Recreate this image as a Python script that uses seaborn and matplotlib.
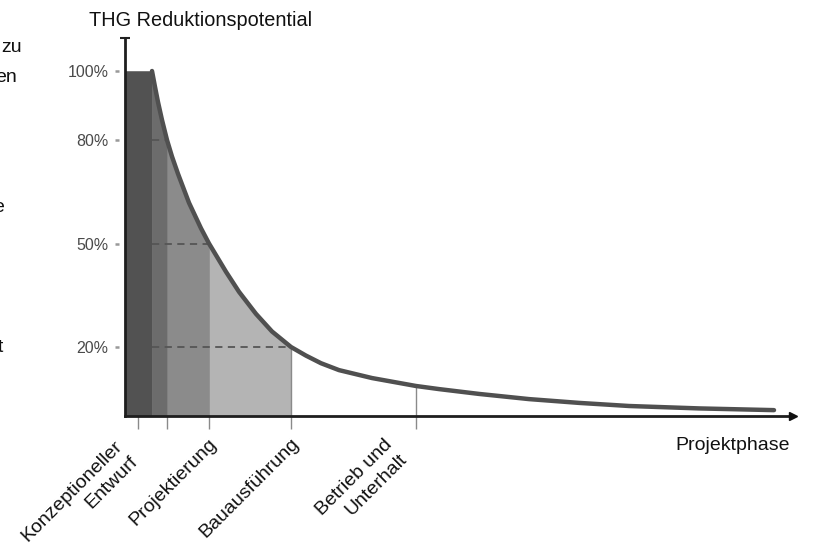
import numpy as np
import pandas as pd
import matplotlib
matplotlib.use('Agg')
import matplotlib.pyplot as plt
import matplotlib.transforms as mtransforms
import seaborn as sns

# ── Data ──────────────────────────────────────────────────────────────────
# x: project progress (arbitrary units), y: GHG reduction potential in %
curve_x = [27, 30, 33, 37, 42, 47, 53, 64, 76, 84, 101, 114, 131, 147, 166, 181, 196,
           214, 247, 291, 314, 354, 404, 454, 504, 574, 649]
curve_y = [100, 95.4, 91.0, 85.8, 80, 75.2, 70.2, 61.8, 54.4, 50, 41.8, 36.0, 29.6, 24.5,
           20, 17.5, 15.3, 13.3, 11.0, 8.7, 7.8, 6.4, 4.9, 3.8, 2.9, 2.2, 1.7]

phase_bounds = [0, 27, 42, 84, 166]          # shaded phases
phase_colors = ["#525252", "#6c6c6c", "#8b8b8b", "#b4b4b4"]
guide_levels = [80, 50, 20]                  # dashed guides
guide_ends   = [42, 84, 166]

tick_pos    = [13, 42, 84, 166, 291]
tick_labels = ["Konzeptioneller\nEntwurf", "", "Projektierung", "Bauausführung", "Betrieb und\nUnterhalt"]
ytick_pos    = [20, 50, 80, 100]
ytick_labels = ["20%", "50%", "80%", "100%"]

left_fragments = ["zu", "en", "e", "t"]

df = pd.DataFrame({"x": curve_x, "y": curve_y})

# ── Style ─────────────────────────────────────────────────────────────────
sns.set_theme(style="white")
plt.rcParams['font.family'] = ['Liberation Sans', 'DejaVu Sans']
FS = 14

fig = plt.figure(figsize=(8.16, 5.48), dpi=100)
ax = fig.add_axes([125/816, 132/548, 668/816, 378/548])
ax.set_xlim(0, 668)
ax.set_ylim(0, 378/3.45)

# ── Shaded phases under the curve ─────────────────────────────────────────
cx = np.array(curve_x, dtype=float)
cy = np.array(curve_y, dtype=float)
ax.fill_between([phase_bounds[0], phase_bounds[1]], 0, 100, color=phase_colors[0], lw=0.4, zorder=1)
for a, b, c in zip(phase_bounds[1:-1], phase_bounds[2:], phase_colors[1:]):
    m = (cx >= a) & (cx <= b)
    ax.fill_between(cx[m], 0, cy[m], color=c, lw=0.4, zorder=1)

# thin separators
for xb in [42, 84]:
    ax.plot([xb, xb], [0, np.interp(xb, cx, cy)], color="#777777", lw=0.6, alpha=0.6, zorder=2)
for xb in [166, 291]:
    ax.plot([xb, xb], [0, np.interp(xb, cx, cy)], color="#8a8a8a", lw=1.0, zorder=2)

# dashed guides
for lvl, xe in zip(guide_levels, guide_ends):
    ax.plot([27, xe], [lvl, lvl], color="#555555", lw=1.3, ls=(0, (4, 3)), zorder=3)

# curve
sns.lineplot(data=df, x="x", y="y", ax=ax, color="#505050", lw=3.2, zorder=4,
             sort=False, estimator=None)

# ── Axes ──────────────────────────────────────────────────────────────────
for s in ["top", "right"]:
    ax.spines[s].set_visible(False)
for s in ["left", "bottom"]:
    ax.spines[s].set_color("#1e1e1e")
    ax.spines[s].set_linewidth(2)
    ax.spines[s].set_zorder(5)
ax.plot(1, 0, ">", color="#111111", ms=6, transform=ax.transAxes, clip_on=False, zorder=6)
ax.plot(0, 1, "_", color="#222222", ms=7, mew=1.5, transform=ax.transAxes, clip_on=False)

ax.set_yticks(ytick_pos)
ax.set_yticklabels(ytick_labels, color="#4a4a4a", fontsize=11.5)
ax.tick_params(axis="y", length=0, pad=12, left=True)
# small detached tick marks left of the y axis
ytr = mtransforms.offset_copy(ax.get_yaxis_transform(), fig=fig, x=-8.5, y=0, units="dots")
ax.plot([0] * len(ytick_pos), ytick_pos, "_", color="#999999", ms=3.5, mew=1.8,
        transform=ytr, clip_on=False)

ax.set_xticks(tick_pos)
ax.set_xticklabels([])
ax.tick_params(axis="x", length=9, width=1, color="#8a8a8a", bottom=True, direction="out")
ax.set_xlabel("")
ax.set_ylabel("")

# rotated phase labels
label_dx = [-24, 0, -1, -1, -32]
label_dy = [-22, 0, -19, -19, -20]
for xp, lab, dx, dy in zip(tick_pos, tick_labels, label_dx, label_dy):
    if not lab:
        continue
    tr = mtransforms.offset_copy(ax.get_xaxis_transform(), fig=fig, x=dx, y=dy, units="dots")
    ax.text(xp, 0, lab, transform=tr, rotation=45, rotation_mode="anchor",
            ha="right", va="top", multialignment="right", fontsize=FS,
            linespacing=1.3, color="#111111")

fig.text(89/816, 1 - 21/548, "THG Reduktionspotential", ha="left", va="center", fontsize=14.3, color="#111111")
fig.text(790/816, 1 - 445/548, "Projektphase", ha="right", va="center", fontsize=FS, color="#111111")

# text cut off at the left edge of the picture
for txt, xr, yc in zip(left_fragments, [22, 17, 4, 3], [48, 77, 207, 347]):
    fig.text(xr/816, 1 - yc/548, txt, ha="right", va="center", fontsize=FS, color="#111111")

fig.savefig("out.png", dpi=100)
